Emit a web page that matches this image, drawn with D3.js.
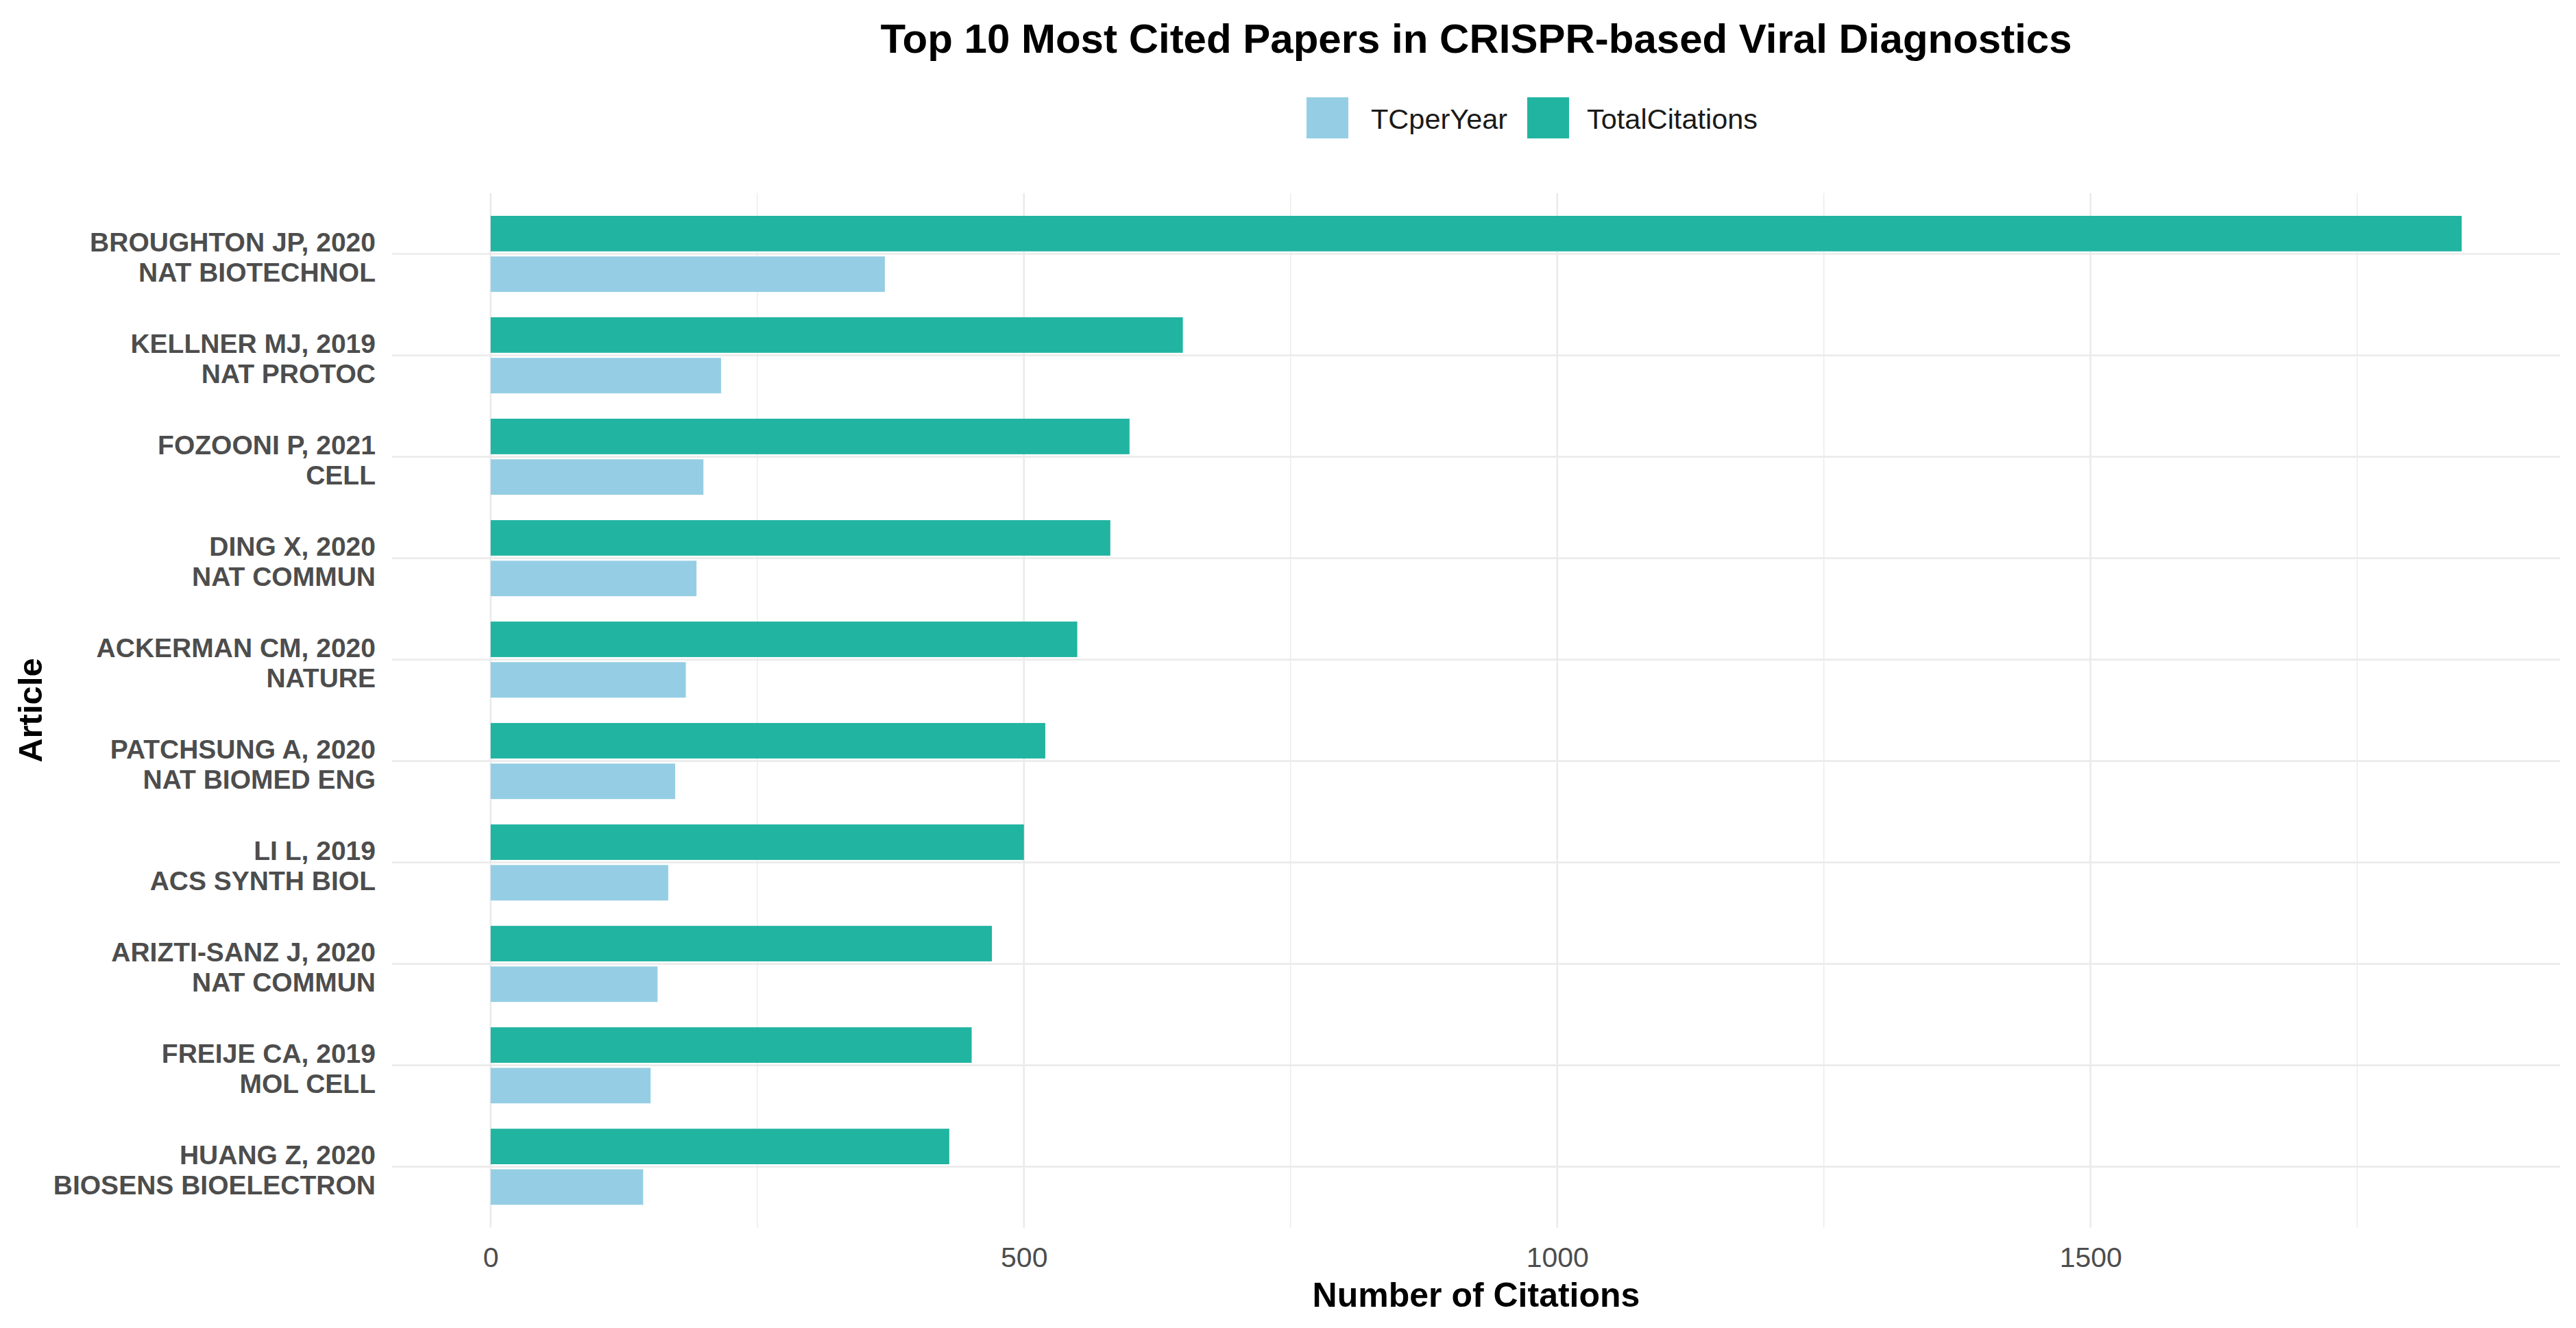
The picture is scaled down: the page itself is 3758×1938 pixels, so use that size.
<!DOCTYPE html>
<html>
<head>
<meta charset="utf-8">
<script src="https://cdn.jsdelivr.net/npm/d3@7"></script>
<style>
  html, body { margin: 0; padding: 0; background: #fff; }
  svg { display: block; font-family: "Liberation Sans", Arial, sans-serif; }
</style>
</head>
<body>
<script>
// ---- data ----
const articles = [
  "BROUGHTON JP, 2020", "KELLNER MJ, 2019", "FOZOONI P, 2021", "DING X, 2020",
  "ACKERMAN CM, 2020", "PATCHSUNG A, 2020", "LI L, 2019", "ARIZTI-SANZ J, 2020",
  "FREIJE CA, 2019", "HUANG Z, 2020"
];
const journals = [
  "NAT BIOTECHNOL", "NAT PROTOC", "CELL", "NAT COMMUN", "NATURE",
  "NAT BIOMED ENG", "ACS SYNTH BIOL", "NAT COMMUN", "MOL CELL", "BIOSENS BIOELECTRON"
];
const totalCitations = [1848, 649, 599, 581, 550, 520, 500, 470, 451, 430];
const tcPerYear = [369.6, 216, 199.5, 193, 183, 173, 166.5, 156.5, 150, 143];
const seriesNames = ["TCperYear", "TotalCitations"];
const seriesColors = ["#95cee4", "#21b4a1"];
const xTicks = [0, 500, 1000, 1500];
const xMinor = [250, 750, 1250, 1750];

const W = 3758, H = 1938;
const panel = { left: 572, right: 3735, top: 281.7, bottom: 1791.5 };

const svg = d3.select("body").append("svg").attr("width", W).attr("height", H);

const maxV = d3.max(totalCitations);
const x = d3.scaleLinear()
  .domain([-0.05 * maxV, maxV * 1.05])
  .range([panel.left, panel.right]);

const keys = articles.map((a, i) => i);
const y = d3.scalePoint().domain(keys).range([panel.top, panel.bottom]).padding(0.6);
const step = y.step();

// dodge: TotalCitations above, TCperYear below
const dodge = d3.scaleBand().domain(["TotalCitations", "TCperYear"])
  .range([-0.4 * step, 0.4 * step]).paddingInner(0.125).paddingOuter(0.0625);

// grid
const grid = svg.append("g");
grid.selectAll("line.minor").data(xMinor).join("line")
  .attr("x1", d => x(d)).attr("x2", d => x(d))
  .attr("y1", panel.top).attr("y2", panel.bottom)
  .attr("stroke", "#ebebeb").attr("stroke-width", 1.4);
grid.selectAll("line.majorx").data(xTicks).join("line")
  .attr("x1", d => x(d)).attr("x2", d => x(d))
  .attr("y1", panel.top).attr("y2", panel.bottom)
  .attr("stroke", "#ebebeb").attr("stroke-width", 2.7);
grid.selectAll("line.majory").data(keys).join("line")
  .attr("x1", panel.left).attr("x2", panel.right)
  .attr("y1", d => y(d)).attr("y2", d => y(d))
  .attr("stroke", "#ebebeb").attr("stroke-width", 2.7);

// bars
const rows = [];
keys.forEach(i => {
  rows.push({ i, s: "TotalCitations", v: totalCitations[i] });
  rows.push({ i, s: "TCperYear", v: tcPerYear[i] });
});
const color = d3.scaleOrdinal().domain(seriesNames).range(seriesColors);
svg.append("g").selectAll("rect").data(rows).join("rect")
  .attr("x", x(0))
  .attr("width", d => x(d.v) - x(0))
  .attr("y", d => y(d.i) + dodge(d.s))
  .attr("height", dodge.bandwidth())
  .attr("fill", d => color(d.s));

// y axis labels
const yAxis = svg.append("g")
  .attr("transform", `translate(${panel.left},0)`)
  .call(d3.axisLeft(y).tickSize(0).tickPadding(24).tickFormat(""));
yAxis.select(".domain").remove();
yAxis.selectAll(".tick text").each(function(d) {
  const t = d3.select(this);
  t.text(null).attr("dy", null)
    .attr("font-size", 39).attr("font-weight", "bold").attr("fill", "#4d4d4d")
    .attr("font-family", '"Liberation Sans", Arial, sans-serif');
  t.append("tspan").attr("x", -24).attr("y", -4).text(articles[d]);
  t.append("tspan").attr("x", -24).attr("y", 40).text(journals[d]);
});

// x axis labels
const xAxis = svg.append("g")
  .attr("transform", `translate(0,${panel.bottom})`)
  .call(d3.axisBottom(x).tickValues(xTicks).tickSize(0).tickFormat(d3.format("d")));
xAxis.select(".domain").remove();
xAxis.selectAll(".tick text")
  .attr("dy", null).attr("y", 57.5)
  .attr("font-size", 41).attr("fill", "#4d4d4d")
  .attr("font-family", '"Liberation Sans", Arial, sans-serif');

const cx = (panel.left + panel.right) / 2;
// axis titles
svg.append("text").attr("x", cx).attr("y", 1907)
  .attr("text-anchor", "middle").attr("font-size", 50).attr("font-weight", "bold")
  .attr("fill", "#000").text("Number of Citations");
svg.append("text")
  .attr("transform", `translate(61,${(panel.top + panel.bottom) / 2}) rotate(-90)`)
  .attr("text-anchor", "middle").attr("font-size", 49).attr("font-weight", "bold")
  .attr("fill", "#000").text("Article");

// title
svg.append("text").attr("x", cx).attr("y", 77)
  .attr("text-anchor", "middle").attr("font-size", 60).attr("font-weight", "bold")
  .attr("fill", "#000").text("Top 10 Most Cited Papers in CRISPR-based Viral Diagnostics");

// legend
const legend = svg.append("g").attr("transform", "translate(1906,142)");
const legX = [0, 322];
seriesNames.forEach((s, k) => {
  const g = legend.append("g").attr("transform", `translate(${legX[k]},0)`);
  g.append("rect").attr("width", 61).attr("height", 60).attr("fill", seriesColors[k]);
  g.append("text").attr("x", 94 - (k ? 7 : 0)).attr("y", 46)
    .attr("font-size", 41.5).attr("fill", "#1a1a1a").text(s);
});
</script>
</body>
</html>
